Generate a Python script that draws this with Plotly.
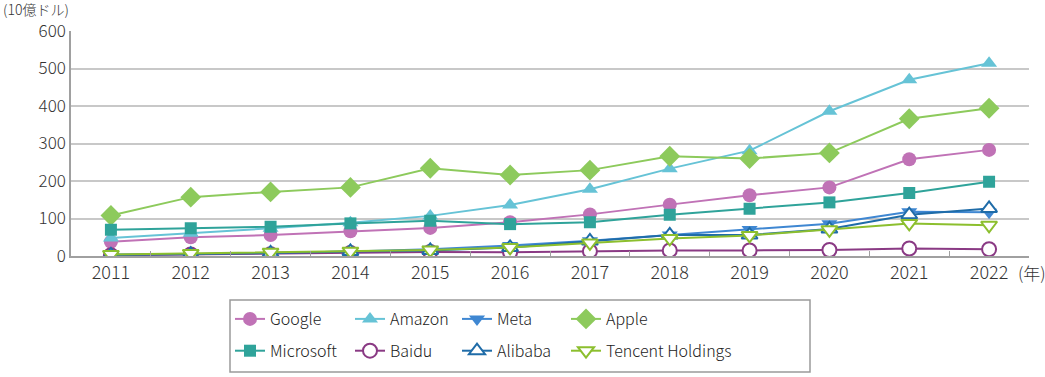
import plotly.graph_objects as go

years = ["2011", "2012", "2013", "2014", "2015", "2016", "2017", "2018", "2019", "2020", "2021", "2022"]

google = [38, 50, 56, 66, 75, 90, 111, 137, 162, 183, 258, 283]
amazon = [48, 61, 74, 89, 107, 136, 178, 233, 281, 386, 470, 514]
meta = [4, 5, 8, 12, 18, 28, 41, 56, 71, 86, 118, 117]
apple = [108, 157, 171, 183, 234, 216, 229, 266, 260, 275, 366, 394]
microsoft = [70, 74, 78, 87, 94, 85, 90, 110, 126, 143, 168, 198]
baidu = [2, 4, 5, 8, 11, 10, 13, 15, 15, 16, 20, 18]
alibaba = [3, 5, 8, 12, 15, 23, 40, 56, 56, 72, 110, 127]
tencent = [4, 7, 10, 13, 16, 23, 35, 47, 55, 70, 87, 82]

# (name, values, colour, symbol, hollow, legend column)
series = [
    ("Google", google, "#c072b6", "circle", False, "legend"),
    ("Amazon", amazon, "#66c3d6", "triangle-up", False, "legend2"),
    ("Meta", meta, "#3f87d2", "triangle-down", False, "legend3"),
    ("Apple", apple, "#8dca5c", "diamond", False, "legend4"),
    ("Microsoft", microsoft, "#2fa39a", "square", False, "legend"),
    ("Baidu", baidu, "#8a3a84", "circle", True, "legend2"),
    ("Alibaba", alibaba, "#1f6ca8", "triangle-up", True, "legend3"),
    ("Tencent Holdings", tencent, "#8cbf2e", "triangle-down", True, "legend4"),
]

FONT = "Noto Sans CJK JP"

fig = go.Figure()
for name, vals, color, sym, hollow, leg in series:
    size = 14
    if sym == "square":
        size = 12
    if sym == "diamond":
        size = 16
    marker = dict(symbol=sym, size=size, color="white" if hollow else color,
                  line=dict(color=color, width=2 if hollow else 0))
    fig.add_trace(go.Scatter(x=years, y=vals, name=name, mode="lines+markers",
                             line=dict(color=color, width=2), marker=marker,
                             legend=leg, legendgroup=name))

L, R, T, B = 71, 16, 31, 121
W, H = 1045, 377
pw = W - L - R
ph = H - T - B

def px2x(p):
    return (p - L) / pw

def px2y(p):
    return (H - B - p) / ph

legend_common = dict(orientation="v", xanchor="left", yanchor="top",
                     font=dict(family=FONT, size=16, color="#222", weight=300),
                     bgcolor="rgba(0,0,0,0)", itemwidth=30, tracegroupgap=8)

col_x = [230, 350, 457, 566]
legend_top = 302

fig.update_layout(
    width=W, height=H,
    margin=dict(l=L, r=R, t=T, b=B, autoexpand=False),
    plot_bgcolor="white", paper_bgcolor="white",
    font=dict(family=FONT, size=16, color="#333", weight=300),
    showlegend=True,
    legend=dict(x=px2x(col_x[0]), y=px2y(legend_top), **legend_common),
    legend2=dict(x=px2x(col_x[1]), y=px2y(legend_top), **legend_common),
    legend3=dict(x=px2x(col_x[2]), y=px2y(legend_top), **legend_common),
    legend4=dict(x=px2x(col_x[3]), y=px2y(legend_top), **legend_common),
    xaxis=dict(type="category", range=[-0.5, 11.5], showgrid=False,
               showline=True, linecolor="#a0a0a0", linewidth=1.5,
               ticks="inside", tickson="boundaries", ticklen=5, tickcolor="#a0a0a0",
               tickfont=dict(family=FONT, size=18, color="#333", weight=300)),
    yaxis=dict(range=[0, 600], dtick=100, showgrid=True, gridcolor="#c8c8c8",
               gridwidth=1.5, showline=True, linecolor="#a0a0a0", linewidth=1.5,
               zeroline=False, ticks="", ticklen=0,
               tickfont=dict(family=FONT, size=17, color="#333", weight=300)),
    shapes=[dict(type="rect", xref="paper", yref="paper",
                 x0=px2x(230), x1=px2x(810), y0=px2y(300), y1=px2y(372),
                 line=dict(color="#9a9a9a", width=1.5), fillcolor="rgba(0,0,0,0)", layer="below")],
    annotations=[
        dict(text="(10億ドル)", xref="paper", yref="paper", x=px2x(2), y=px2y(9),
             xanchor="left", yanchor="middle", showarrow=False, borderpad=0,
             font=dict(family=FONT, size=14, color="#333", weight=300)),
        dict(text="(年)", xref="paper", yref="paper", x=px2x(1016), y=px2y(272),
             xanchor="left", yanchor="middle", showarrow=False,
             font=dict(family=FONT, size=17, color="#333", weight=300)),
    ],
)

fig.write_html("out.html", post_script="document.body.style.margin='0px';",
               config={"displayModeBar": False})
